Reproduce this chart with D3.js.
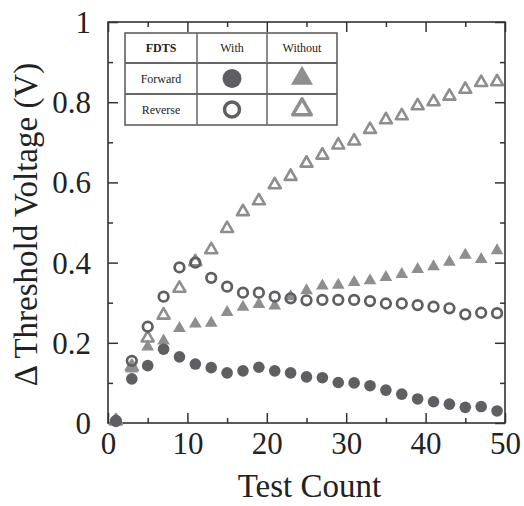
<!DOCTYPE html>
<html>
<head>
<meta charset="utf-8">
<script src="https://cdn.jsdelivr.net/npm/d3@7"></script>
<style>
  body { margin: 0; background: white; }
  svg text { font-family: "Liberation Serif", "DejaVu Serif", serif !important; }
</style>
</head>
<body>
<script>
// test counts (odd numbers 1..49)
const counts = [1,3,5,7,9,11,13,15,17,19,21,23,25,27,29,31,33,35,37,39,41,43,45,47,49];

// FDTS with, forward (filled circles)
const withForward = [0.005,0.11,0.143,0.184,0.165,0.147,0.138,0.125,0.130,0.139,0.130,0.125,0.115,0.113,0.101,0.100,0.093,0.082,0.072,0.060,0.053,0.047,0.039,0.041,0.030];
// FDTS with, reverse (open circles)
const withReverse = [0.005,0.155,0.240,0.315,0.388,0.400,0.362,0.340,0.325,0.325,0.315,0.311,0.306,0.307,0.307,0.307,0.304,0.298,0.298,0.294,0.290,0.286,0.271,0.275,0.274];
// without, forward (filled triangles)
const withoutForward = [0.005,0.135,0.190,0.205,0.236,0.247,0.249,0.276,0.289,0.296,0.292,0.315,0.330,0.342,0.344,0.351,0.355,0.363,0.371,0.383,0.390,0.401,0.419,0.408,0.430];
// without, reverse (open triangles)
const withoutReverse = [0.005,0.140,0.212,0.269,0.336,0.402,0.432,0.485,0.527,0.554,0.594,0.615,0.648,0.668,0.693,0.703,0.732,0.756,0.766,0.791,0.801,0.815,0.832,0.849,0.851];

const xTicks = [0,10,20,30,40,50];
const xMinor = [5,15,25,35,45];
const yTicks = [0,0.2,0.4,0.6,0.8,1];
const yMinor = [0.1,0.3,0.5,0.7,0.9];

const legendCols = ["FDTS", "With", "Without"];
const legendRows = ["Forward", "Reverse"];

const width = 524, height = 506;
const margin = {top: 22, right: 19, bottom: 83, left: 108};
const innerWidth = width - margin.left - margin.right;
const innerHeight = height - margin.top - margin.bottom;

const dark = "#5f5f63";
const light = "#8e8e8e";
const serif = '"Liberation Serif", "DejaVu Serif", serif';

const svg = d3.select("body").append("svg")
    .attr("width", width)
    .attr("height", height)
    .attr("font-family", serif);

const g = svg.append("g")
    .attr("transform", `translate(${margin.left},${margin.top})`);

const xScale = d3.scaleLinear().domain([0, 50]).range([0, innerWidth]);
const yScale = d3.scaleLinear().domain([0, 1]).range([innerHeight, 0]);

// axes: ticks inward on all four sides
function fmtY(d) { return d === 0 ? "0" : d === 1 ? "1" : d3.format(".1f")(d); }

const xAxis = d3.axisBottom(xScale).tickValues(xTicks).tickSize(-10).tickPadding(9).tickFormat(d3.format("d"));
const xAxisMinor = d3.axisBottom(xScale).tickValues(xMinor).tickSize(-5);
const xTop = d3.axisTop(xScale).tickValues(xTicks).tickSize(-10);
const xTopMinor = d3.axisTop(xScale).tickValues(xMinor).tickSize(-5);
const yAxis = d3.axisLeft(yScale).tickValues(yTicks).tickSize(-10).tickPadding(17).tickFormat(fmtY);
const yAxisMinor = d3.axisLeft(yScale).tickValues(yMinor).tickSize(-5);
const yRight = d3.axisRight(yScale).tickValues(yTicks).tickSize(-10);
const yRightMinor = d3.axisRight(yScale).tickValues(yMinor).tickSize(-5);

function styleAxis(sel) {
  sel.attr("font-family", serif).attr("font-size", 31);
  sel.select(".domain").remove();
  sel.selectAll("line").attr("stroke", "#333").attr("stroke-width", 1.5);
  sel.selectAll("text").attr("fill", "#222");
}
// tick marks only, no labels
function ticksOnly(sel) {
  styleAxis(sel);
  sel.selectAll("text").remove();
}

g.append("g").attr("transform", `translate(0,${innerHeight})`).call(xAxis).call(styleAxis);
g.append("g").attr("transform", `translate(0,${innerHeight})`).call(xAxisMinor).call(ticksOnly);
g.append("g").call(xTop).call(ticksOnly);
g.append("g").call(xTopMinor).call(ticksOnly);
g.append("g").call(yAxis).call(styleAxis)
  .selectAll("text").attr("dy", "0.34em");
g.append("g").call(yAxisMinor).call(ticksOnly);
g.append("g").attr("transform", `translate(${innerWidth},0)`).call(yRight).call(ticksOnly);
g.append("g").attr("transform", `translate(${innerWidth},0)`).call(yRightMinor).call(ticksOnly);

// frame
g.append("rect")
    .attr("width", innerWidth)
    .attr("height", innerHeight)
    .attr("fill", "none")
    .attr("stroke", "#333")
    .attr("stroke-width", 1.6);

// axis labels
svg.append("text")
    .attr("x", margin.left + innerWidth / 2 + 3)
    .attr("y", 497)
    .attr("text-anchor", "middle")
    .attr("font-size", 33)
    .attr("fill", "#222")
    .text("Test Count");

svg.append("text")
    .attr("transform", `translate(37,${margin.top + innerHeight / 2 + 2}) rotate(-90)`)
    .attr("text-anchor", "middle")
    .attr("font-size", 33)
    .attr("fill", "#222")
    .text("\u0394 Threshold Voltage (V)");

// data
const rows = counts.map((c, i) => ({
  x: c,
  wf: withForward[i],
  wr: withReverse[i],
  of: withoutForward[i],
  or: withoutReverse[i]
}));

const triSmall = d3.symbol().type(d3.symbolTriangle).size(70);
const triOpen = d3.symbol().type(d3.symbolTriangle).size(62);

g.append("g").selectAll("path").data(rows).enter().append("path")
    .attr("d", triSmall)
    .attr("transform", d => `translate(${xScale(d.x)},${yScale(d.of)})`)
    .attr("fill", light);

g.append("g").selectAll("path").data(rows).enter().append("path")
    .attr("d", triOpen)
    .attr("transform", d => `translate(${xScale(d.x)},${yScale(d.or)})`)
    .attr("fill", "none")
    .attr("stroke", light)
    .attr("stroke-width", 2.6)
    .attr("stroke-linejoin", "round");

g.append("g").selectAll("circle").data(rows).enter().append("circle")
    .attr("cx", d => xScale(d.x))
    .attr("cy", d => yScale(d.wf))
    .attr("r", 5.8)
    .attr("fill", dark);

g.append("g").selectAll("circle").data(rows).enter().append("circle")
    .attr("cx", d => xScale(d.x))
    .attr("cy", d => yScale(d.wr))
    .attr("r", 4.8)
    .attr("fill", "none")
    .attr("stroke", dark)
    .attr("stroke-width", 2.7);

// legend table
const lx = 125, ly = 33;
const colW = [72, 70, 70];
const rowH = [30, 31, 31];
const colX = [0, colW[0], colW[0] + colW[1], colW[0] + colW[1] + colW[2]];
const rowY = [0, rowH[0], rowH[0] + rowH[1], rowH[0] + rowH[1] + rowH[2]];

const leg = svg.append("g").attr("transform", `translate(${lx},${ly})`);
leg.append("rect")
    .attr("width", colX[3]).attr("height", rowY[3])
    .attr("fill", "white").attr("stroke", "#555").attr("stroke-width", 1.5);
leg.selectAll("line.v").data(colX.slice(1, 3)).enter().append("line")
    .attr("x1", d => d).attr("x2", d => d).attr("y1", 0).attr("y2", rowY[3])
    .attr("stroke", "#666").attr("stroke-width", 1.5);
leg.selectAll("line.h").data(rowY.slice(1, 3)).enter().append("line")
    .attr("x1", 0).attr("x2", colX[3]).attr("y1", d => d).attr("y2", d => d)
    .attr("stroke", "#666").attr("stroke-width", 1.8);

leg.selectAll("text.head").data(legendCols).enter().append("text")
    .attr("x", (d, i) => colX[i] + colW[i] / 2)
    .attr("y", rowY[0] + rowH[0] / 2 + 4)
    .attr("text-anchor", "middle")
    .attr("font-size", 12)
    .attr("fill", "#222")
    .attr("font-weight", (d, i) => i === 0 ? "bold" : "normal")
    .text(d => d);

leg.selectAll("text.row").data(legendRows).enter().append("text")
    .attr("x", colW[0] / 2)
    .attr("y", (d, i) => rowY[i + 1] + rowH[i + 1] / 2 + 4)
    .attr("text-anchor", "middle")
    .attr("font-size", 12)
    .attr("fill", "#222")
    .text(d => d);

const cx1 = colX[1] + colW[1] / 2, cx2 = colX[2] + colW[2] / 2;
const r1 = rowY[1] + rowH[1] / 2, r2 = rowY[2] + rowH[2] / 2;

leg.append("circle").attr("cx", cx1).attr("cy", r1).attr("r", 9.5).attr("fill", dark);
leg.append("circle").attr("cx", cx1).attr("cy", r2).attr("r", 7.5)
    .attr("fill", "none").attr("stroke", dark).attr("stroke-width", 3.5);
leg.append("path").attr("d", d3.symbol().type(d3.symbolTriangle).size(210))
    .attr("transform", `translate(${cx2},${r1})`).attr("fill", light);
leg.append("path").attr("d", d3.symbol().type(d3.symbolTriangle).size(150))
    .attr("transform", `translate(${cx2},${r2})`).attr("fill", "none")
    .attr("stroke", light).attr("stroke-width", 3.5).attr("stroke-linejoin", "round");
</script>
</body>
</html>
